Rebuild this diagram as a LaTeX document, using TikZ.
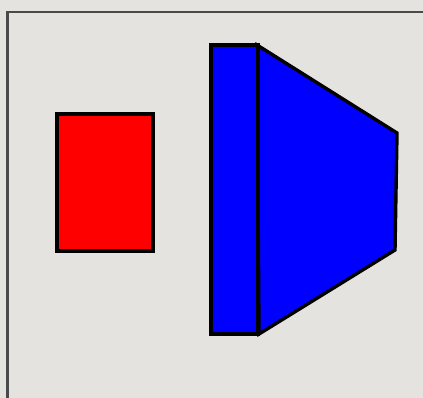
\documentclass[tikz,border=0pt]{standalone}
\definecolor{bg}{HTML}{E5E3DF}
\definecolor{frame}{HTML}{4A4A4A}
\begin{document}
\begin{tikzpicture}[x=1pt,y=-1pt,
  blk/.style={draw=black,line width=3.4pt,line join=miter}]
\useasboundingbox (0,0) rectangle (423,398);
\clip (0,0) rectangle (423,398);
\fill[bg] (0,0) rectangle (423,398);
\draw[frame,line width=2.5pt] (7.5,12) rectangle (440,420);
\draw[blk,fill=red] (57,114) rectangle (153,251);
\draw[blk,fill=blue] (257,45) -- (397,133) -- (395,250) -- (259,334) -- cycle;
\draw[blk,fill=blue] (211,45) rectangle (258,334);
\end{tikzpicture}
\end{document}
